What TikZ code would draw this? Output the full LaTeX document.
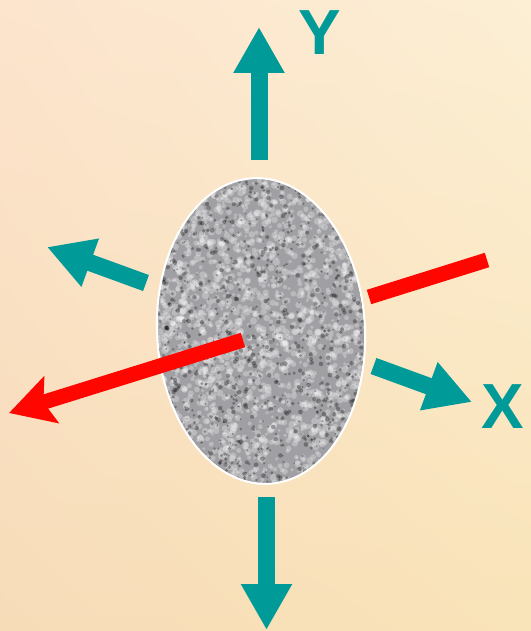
\documentclass[tikz,border=0pt]{standalone}
\usepackage{fontspec}
\setmainfont{Liberation Sans}
\usetikzlibrary{arrows.meta,shadings}
\definecolor{tealarrow}{RGB}{0,154,152}
\definecolor{redarrow}{RGB}{255,6,0}
\definecolor{cellgray}{RGB}{160,160,164}
\definecolor{bgul}{RGB}{252,228,205}
\definecolor{bgur}{RGB}{252,239,212}
\definecolor{bgll}{RGB}{247,220,184}
\definecolor{bglr}{RGB}{249,227,184}

\begin{document}
\begin{tikzpicture}[x=1bp,y=-1bp,
    axisarrow/.style={tealarrow, line width=17bp, -{Triangle[length=46bp,width=48bp]}},
    redline/.style={redarrow, line width=15bp},
    axislabel/.style={tealarrow, inner sep=0pt, font=\fontsize{64}{64}\selectfont\bfseries}]
  \useasboundingbox (0,0) rectangle (531,631);
  \shade[upper left=bgul, upper right=bgur, lower left=bgll, lower right=bglr] (0,0) rectangle (531,631);
  % ends of the arrows
  \coordinate (ytail) at (259,160);   \coordinate (yhead) at (259,27);
  \coordinate (dtail) at (266.5,497); \coordinate (dhead) at (266.5,630);
  \coordinate (ltail) at (146,283);   \coordinate (lhead) at (47,247);
  \coordinate (xtail) at (373.5,366); \coordinate (xhead) at (472,402);
  \coordinate (rin) at (369,297);     \coordinate (rout) at (487,260);
  \coordinate (atail) at (243,340);   \coordinate (ahead) at (9,413);
  \draw[redline] (rin) -- (rout);
  % the cell
  \begin{scope}
    \clip[rotate around={3:(261,331)}] (261,331) ellipse [x radius=104, y radius=153];
    \fill[cellgray] (100,170) rectangle (420,490);
    \pgfmathsetseed{42}
    \foreach \i in {1,...,2400}
      \fill[white, opacity=0.28] ({261+110*rand},{331+160*rand}) circle ({1.5+2.2*rnd});
    \foreach \i in {1,...,1100}
      \fill[black, opacity=0.3] ({261+110*rand},{331+160*rand}) circle ({0.8+1.6*rnd});
  \end{scope}
  \draw[white, line width=2bp, rotate around={3:(261,331)}] (261,331) ellipse [x radius=104, y radius=153];
  \draw[axisarrow] (ytail) -- (yhead);
  \draw[axisarrow] (dtail) -- (dhead);
  \draw[axisarrow] (ltail) -- (lhead);
  \draw[axisarrow] (xtail) -- (xhead);
  \draw[redline, -{Stealth[length=44bp,width=48bp,inset=8bp]}] (atail) -- (ahead);
  \node[axislabel] (ylabel) at (320,33) {Y};
  \node[axislabel] (xlabel) at (503,407) {X};
\end{tikzpicture}
\end{document}
